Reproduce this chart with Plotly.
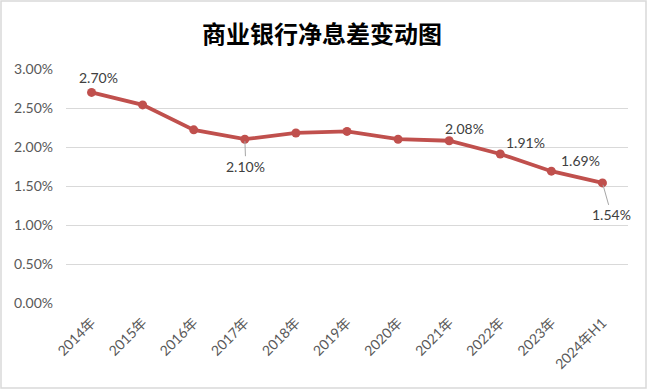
import plotly.graph_objects as go

categories = ["2014年", "2015年", "2016年", "2017年", "2018年", "2019年",
              "2020年", "2021年", "2022年", "2023年", "2024年H1"]
nim = [2.70, 2.54, 2.22, 2.10, 2.18, 2.20, 2.10, 2.08, 1.91, 1.69, 1.54]
y_ticks = [0, 0.5, 1.0, 1.5, 2.0, 2.5, 3.0]
y_tick_text = ["0.00%", "0.50%", "1.00%", "1.50%", "2.00%", "2.50%", "3.00%"]

# labels shown: index -> (xshift/ax, yshift/ay, leader line)
label_cfg = {
    0: (7, 15, False),
    3: (1, -27, True),
    7: (15, 12, False),
    8: (25, 12, False),
    9: (29, 11, False),
    10: (9, -32, True),
}

W, H = 648, 390
L, R, T, B = 66, 20, 69, 87

fig = go.Figure()
fig.add_trace(go.Scatter(
    x=categories, y=nim, mode="lines+markers",
    line=dict(color="#C0504D", width=3.8),
    marker=dict(color="#C0504D", size=9),
    hoverinfo="skip", showlegend=False,
))

font_fam = "Lato, 'Noto Sans CJK SC', sans-serif"
annotations = []
for i, (dx, dy, leader) in label_cfg.items():
    txt = f"{nim[i]:.2f}%"
    if leader:
        annotations.append(dict(
            x=categories[i], y=nim[i], xref="x", yref="y", text=txt,
            showarrow=True, arrowhead=0, arrowwidth=1, arrowcolor="#A6A6A6",
            ax=dx, ay=-dy, standoff=2,
            font=dict(size=14, color="#404040", family=font_fam),
        ))
    else:
        annotations.append(dict(
            x=categories[i], y=nim[i], xref="x", yref="y", text=txt,
            showarrow=False, xshift=dx, yshift=dy,
            font=dict(size=14, color="#404040", family=font_fam),
        ))

annotations.append(dict(
    text="<b>商业银行净息差变动图</b>", xref="paper", yref="paper",
    x=(322 - L) / (W - L - R), y=1 + (T - 32) / (H - T - B),
    xanchor="center", yanchor="middle", showarrow=False,
    font=dict(size=24, color="#000000", family="'Noto Sans CJK SC', sans-serif"),
))

pw, ph = W - L - R, H - T - B
fig.add_shape(type="rect", xref="paper", yref="paper",
              x0=(1 - L) / pw, x1=(W - 2 - L) / pw,
              y0=-(H - 2 - T - ph) / ph, y1=1 + (T - 1) / ph,
              line=dict(color="#D9D9D9", width=1.5), layer="below")

fig.update_layout(
    width=W, height=H,
    margin=dict(l=L, r=R, t=T, b=B),
    paper_bgcolor="white", plot_bgcolor="white",
    annotations=annotations,
    xaxis=dict(
        type="category", range=[-0.5, 10.5], tickangle=-45,
        showgrid=False, showline=False, ticks="", ticklabelstandoff=8,
        tickfont=dict(size=14, color="#595959", family=font_fam),
    ),
    yaxis=dict(
        range=[0, 3.0], tickvals=y_ticks, ticktext=y_tick_text,
        showgrid=True, gridcolor="#D9D9D9", gridwidth=1,
        zeroline=False, showline=False, ticks="", ticklabelstandoff=12,
        tickfont=dict(size=14, color="#595959", family=font_fam),
    ),
)

fig.write_html("out.html")
